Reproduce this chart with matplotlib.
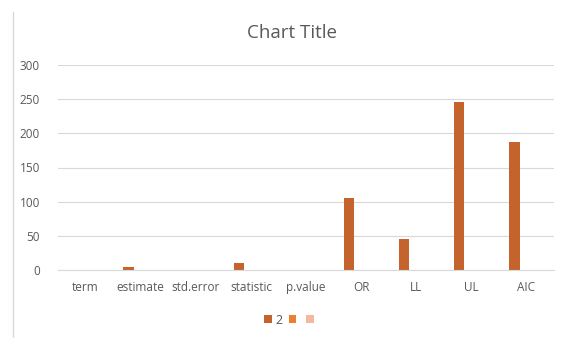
import matplotlib
matplotlib.use("Agg")
import matplotlib.pyplot as plt
import numpy as np
from matplotlib.lines import Line2D

categories = ["term", "estimate", "std.error", "statistic", "p.value", "OR", "LL", "UL", "AIC"]
series_2 = [0, 4, 0.3, 10, 0.1, 106, 45, 246, 188]
series_b = [np.nan] * 9
series_c = [np.nan] * 9
series_labels = ["2", "", ""]
colors = ["#C4632B", "#ED7D31", "#F4B8A0"]
yticks = [0, 50, 100, 150, 200, 250, 300]

plt.rcParams['font.family'] = ['Open Sans', 'DejaVu Sans']

fig = plt.figure(figsize=(5.64, 3.38), dpi=100)
ax = fig.add_axes([58/564, 1-270/338, (554-58)/564, (270-65)/338])

x = np.arange(len(categories))
w = 0.19
conts = []
for i, vals in enumerate([series_2, series_b, series_c]):
    c = ax.bar(x + (i - 1) * w - 0.03, vals, width=w, color=colors[i], label=series_labels[i])
    conts.append(c)

ax.set_xlim(-0.5, len(categories) - 0.5)
ax.set_ylim(0, 300)
ax.set_yticks(yticks)
ax.set_xticks(x)
ax.set_xticklabels(categories)
ax.grid(axis='y', color='#D9D9D9', linewidth=0.8)
ax.set_axisbelow(True)
for s in ['top', 'right', 'left']:
    ax.spines[s].set_visible(False)
ax.spines['bottom'].set_color('#D9D9D9')
ax.spines['bottom'].set_linewidth(0.8)
ax.tick_params(axis='both', length=0, colors='#595959', labelsize=8.5)
ax.tick_params(axis='y', pad=13)
ax.tick_params(axis='x', pad=8)

fig.text(292/564, 1-33/338, "Chart Title", ha='center', va='center', fontsize=13.5, color='#595959')

leg = fig.legend(handles=[c.patches[0] for c in conts],
                 labels=series_labels, loc='center', bbox_to_anchor=(291/564, 1-320/338),
                 ncol=3, frameon=False, fontsize=9, handlelength=0.6, handleheight=0.6,
                 handletextpad=0.3, columnspacing=0.5, labelcolor='#595959')

fig.add_artist(Line2D([13/564, 13/564], [0, 1-12/338], color='#D9D9D9', linewidth=1.0))

fig.savefig("out.png", dpi=100, facecolor='white')
